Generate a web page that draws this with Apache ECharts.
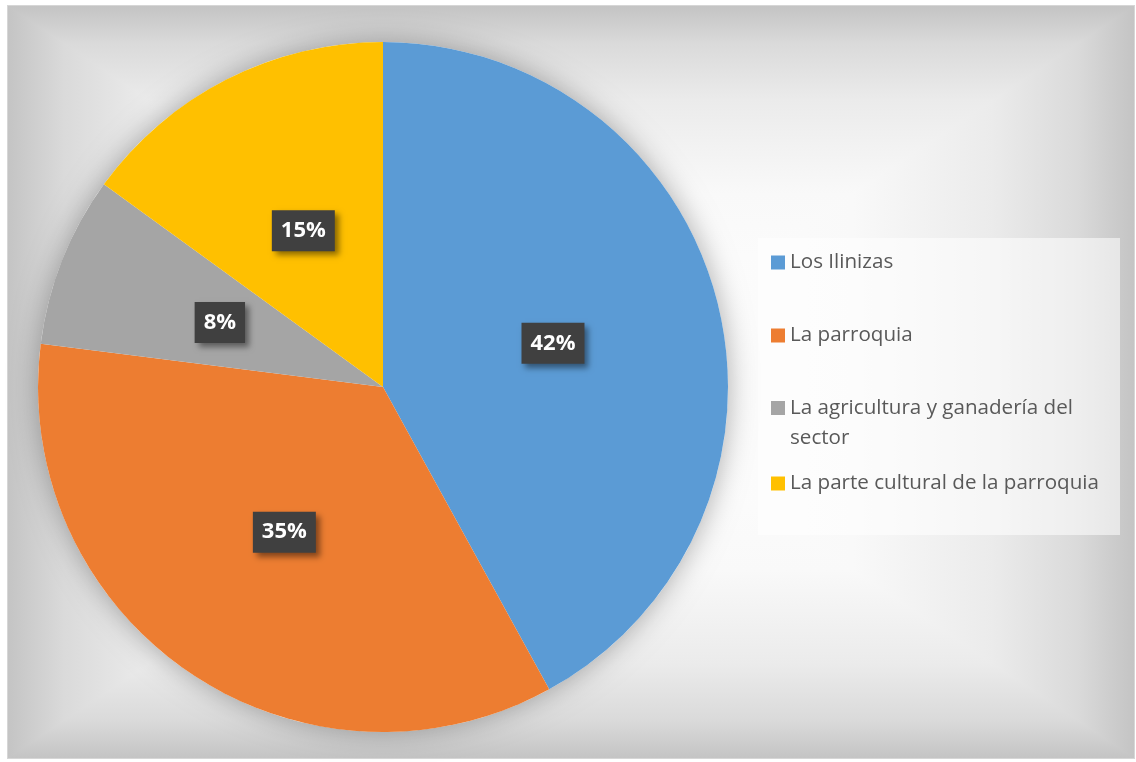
<!DOCTYPE html>
<html>
<head>
<meta charset="utf-8">
<script src="https://cdn.jsdelivr.net/npm/echarts@6/dist/echarts.min.js"></script>
<style>
html,body{margin:0;padding:0;background:#fff;}
#chart{width:1136px;height:762px;}
</style>
</head>
<body>
<div id="chart"></div>
<script>
var categories = ['Los Ilinizas', 'La parroquia', 'La agricultura y ganadería del sector', 'La parte cultural de la parroquia'];
var values = [42, 35, 8, 15];
var palette = ['#5B9BD5', '#ED7D31', '#A5A5A5', '#FFC000'];

var chart = echarts.init(document.getElementById('chart'));

// chart-area rectangle and its centre (path gradient background)
var L = 8, T = 6, R = 1134, B = 758;
var CX = (L + R) / 2, CY = (T + B) / 2;
var stops = [
  {offset: 0, color: '#c4c4c4'},
  {offset: 0.1, color: '#dadada'},
  {offset: 0.25, color: '#ebebeb'},
  {offset: 0.5, color: '#f9f9f9'},
  {offset: 1, color: '#ffffff'}
];
function grad(x0, y0, x1, y1) {
  return new echarts.graphic.LinearGradient(x0, y0, x1, y1, stops);
}

var legendFont = '"Open Sans", "Noto Sans", sans-serif';
function makeLegend(name, top, fmt, lh) {
  return {
    data: [name],
    orient: 'vertical',
    left: 771,
    top: top,
    padding: 0,
    itemWidth: 14,
    itemHeight: 14,
    icon: 'rect',
    selectedMode: false,
    formatter: fmt || '{name}',
    textStyle: {
      color: '#595959',
      fontSize: 20.6,
      fontFamily: legendFont,
      lineHeight: lh || 14
    }
  };
}

var option = {
  animation: false,
  color: palette,
  graphic: [
    {type: 'rect', z: -20, shape: {x: L - 1, y: T - 1, width: R - L + 2, height: B - T + 2}, style: {fill: '#d6d6d6'}},
    {type: 'rect', z: -12, shape: {x: L, y: T, width: CX - L, height: B - T}, style: {fill: grad(0, 0, 1, 0)}},
    {type: 'rect', z: -12, shape: {x: CX, y: T, width: R - CX, height: B - T}, style: {fill: grad(1, 0, 0, 0)}},
    {type: 'polygon', z: -10, shape: {points: [[L, T], [R, T], [CX, CY]]}, style: {fill: grad(0, 0, 0, 1)}},
    {type: 'polygon', z: -10, shape: {points: [[L, B], [R, B], [CX, CY]]}, style: {fill: grad(0, 1, 0, 0)}},
    {type: 'rect', z: -5, shape: {x: 758, y: 238, width: 362, height: 297}, style: {fill: 'rgba(255,255,255,0.55)'}}
  ],
  legend: [
    makeLegend(categories[0], 252),
    makeLegend(categories[1], 325),
    makeLegend(categories[2], 363, '\nLa agricultura y ganadería del\nsector', 30),
    makeLegend(categories[3], 473)
  ],
  series: [
    {
      type: 'pie',
      silent: true,
      center: [383, 387],
      radius: [0, 345],
      z: 1,
      label: {show: false},
      labelLine: {show: false},
      itemStyle: {
        color: '#ffffff',
        shadowBlur: 28,
        shadowColor: 'rgba(0,0,0,0.32)'
      },
      data: [{value: 1, name: '_base'}]
    },
    {
      type: 'pie',
      center: [383, 387],
      radius: [0, 345],
      startAngle: 90,
      clockwise: true,
      z: 2,
      itemStyle: {borderWidth: 0},
      emphasis: {disabled: true},
      label: {
        show: true,
        position: 'inside',
        formatter: '{c}%',
        color: '#ffffff',
        fontSize: 22,
        fontWeight: 'bold',
        fontFamily: '"Open Sans", "Noto Sans", sans-serif',
        backgroundColor: '#404040',
        padding: [10, 9, 9, 9],
        shadowColor: 'rgba(0,0,0,0.45)',
        shadowBlur: 6,
        shadowOffsetX: 4,
        shadowOffsetY: 4
      },
      labelLine: {show: false},
      data: categories.map(function (c, i) { return {name: c, value: values[i]}; })
    }
  ]
};
chart.setOption(option);
</script>
</body>
</html>
